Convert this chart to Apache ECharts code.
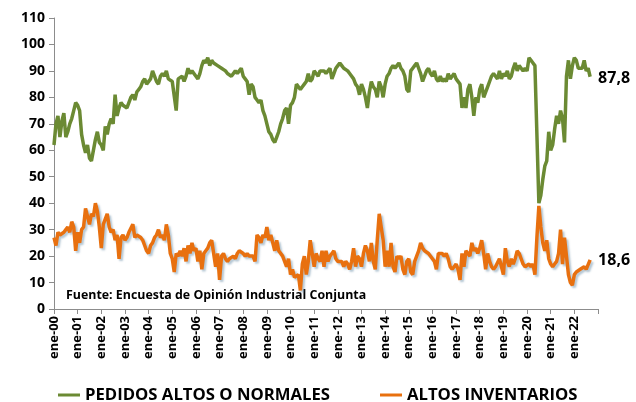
<!DOCTYPE html>
<html><head><meta charset="utf-8">
<script src="https://cdn.jsdelivr.net/npm/echarts@6/dist/echarts.min.js"></script>
<style>html,body{margin:0;padding:0;background:#fff}#c{width:636px;height:402px}</style>
</head><body><div id="c"></div>
<script>
// Categorías mensuales ene-00 ... ene-23
const meses = ['ene','feb','mar','abr','may','jun','jul','ago','sep','oct','nov','dic'];
const anios = ['00','01','02','03','04','05','06','07','08','09','10','11','12','13','14','15','16','17','18','19','20','21','22','23'];
const yTicks = [0,10,20,30,40,50,60,70,80,90,100,110];

// PEDIDOS ALTOS O NORMALES (ene-00 ... sep-22)
const pedidos = [
  62,70,73,65,71,74,65,67,70,72,75,78,
  77,75,66,62,59,62,57,56,56,64,67,63,
  62,60,69,66,70,72,70,81,73,76,78,77,
  77,76,78,80,81,79,82,83,84,86,87,85,
  85,87,90,88,86,85,88,89,88,90,87,87,
  86,86,75,87,87,88,86,88,91,89,90,90,
  88,87,89,92,94,93,95,92,94,93,93,92,
  92,91,91,90,89,89,88,88,90,89,90,91,
  88,87,86,81,85,84,80,79,78,79,75,73,
  70,67,66,64,63,65,67,70,72,75,76,70,
  77,78,80,85,84,83,84,85,86,89,86,87,
  90,89,88,90,90,90,89,89,91,87,89,91,
  92,93,92,91,91,90,89,89,87,85,84,81,
  85,83,80,76,82,86,84,83,80,86,84,80,
  85,88,89,91,92,91,92,93,91,90,88,83,
  82,90,91,92,93,91,89,86,88,90,91,89,
  88,90,87,86,88,86,87,86,89,87,88,89,
  87,87,85,76,80,76,83,85,80,73,80,78,
  83,85,80,82,84,86,88,89,88,87,90,87,
  89,88,90,87,88,91,93,90,92,91,90,91,
  90,95,94,93,92,66,40,43,49,54,56,67,
  60,62,68,73,70,75,72,63,88,94,87,92,
  95,94,91,91,91,94,90,91,87.8
];

// ALTOS INVENTARIOS (ene-00 ... sep-22)
const inventarios = [
  27,24,29,28,28,29,30,31,29,33,31,22,
  29,25,30,31,38,35,32,36,35,40,37,31,
  23,32,34,36,31,29,30,26,28,19,27,28,
  26,27,29,29,32,27,28,28,27,26,24,22,
  21,24,25,27,28,30,27,28,26,32,28,21,
  19,14,21,20,22,20,23,18,24,21,25,22,
  23,18,22,15,21,22,23,25,26,21,16,21,
  11,20,21,19,18,19,19,20,19,21,22,22,
  21,20,21,20,20,20,18,28,27,25,28,27,
  31,26,28,25,22,26,22,22,20,18,16,19,
  13,15,12,12,13,7,17,20,13,18,26,21,
  16,21,19,18,22,16,22,18,20,21,22,19,
  18,18,18,16,18,17,15,18,23,16,20,19,
  16,21,24,22,18,25,18,15,26,36,31,26,
  16,22,16,25,16,14,20,19,20,15,13,18,
  19,14,13,18,20,22,25,23,22,22,21,21,
  19,18,15,21,21,21,20,21,19,16,15,16,
  17,15,11,21,16,22,22,20,25,22,23,21,
  23,26,21,15,21,18,16,15,16,16,19,16,
  13,23,18,16,19,17,19,22,21,19,17,16,
  16,17,16,17,13,27,39,31,25,22,26,19,
  17,16,17,18,21,30,17,27,20,13,10,9,
  13,14,14,15,15,16,15,15,18.6
];

const fuente = 'Fuente: Encuesta de Opinión Industrial Conjunta';
const nombres = ['PEDIDOS ALTOS O NORMALES','ALTOS INVENTARIOS'];

const categorias = [];
for (let a = 0; a < anios.length - 1; a++) {
  for (let m = 0; m < 12; m++) categorias.push(meses[m] + '-' + anios[a]);
}
categorias.push(meses[0] + '-' + anios[anios.length - 1]);
const nCat = categorias.length - 1;

const FONT = 'Open Sans';
const chart = echarts.init(document.getElementById('c'), null, {renderer: 'canvas'});
const fmt = p => String(p.value).replace('.', ',');

chart.setOption({
  animation: false,
  backgroundColor: '#fff',
  grid: {left: 54, right: 38, top: 18, bottom: 93, containLabel: false},
  xAxis: {
    type: 'category', data: categorias, boundaryGap: false,
    axisLine: {show: true, lineStyle: {color: '#8c8c8c', width: 1}},
    axisTick: {show: true, length: 5, interval: (i) => i % 12 === 0, lineStyle: {color: '#8c8c8c'}},
    axisLabel: {
      interval: (i) => i % 12 === 0 && i < nCat,
      rotate: 90, margin: 7, color: '#000', fontSize: 13, fontWeight: 'bold', fontFamily: FONT
    },
    splitLine: {show: false}
  },
  yAxis: {
    type: 'value', min: yTicks[0], max: yTicks[yTicks.length - 1], interval: 10,
    axisLine: {show: true, lineStyle: {color: '#8c8c8c', width: 1}},
    axisTick: {show: true, length: 5, lineStyle: {color: '#8c8c8c'}},
    axisLabel: {margin: 9, color: '#000', fontSize: 14, fontWeight: 'bold', fontFamily: FONT},
    splitLine: {show: false}
  },
  legend: [
    {data: [nombres[0]], left: 58, top: 386, padding: 0, icon: 'rect', itemWidth: 22, itemHeight: 3,
     textStyle: {fontSize: 16.7, fontWeight: 'bold', color: '#000', fontFamily: FONT, lineHeight: 18}},
    {data: [nombres[1]], left: 380, top: 386, padding: 0, icon: 'rect', itemWidth: 22, itemHeight: 3,
     textStyle: {fontSize: 16.7, fontWeight: 'bold', color: '#000', fontFamily: FONT, lineHeight: 18}}
  ],
  graphic: [{
    type: 'text', left: 66, top: 289,
    style: {text: fuente, fill: '#000', font: 'bold 12.4px "Open Sans"'}
  }],
  series: [
    {
      name: nombres[0], type: 'line', data: pedidos, showSymbol: false, symbol: 'none',
      lineStyle: {width: 3.5, color: '#6b8a33'}, itemStyle: {color: '#6b8a33'},
      endLabel: {show: true, formatter: fmt, distance: 8, offset: [0, 2], color: '#000', fontSize: 16, fontWeight: 'bold', fontFamily: FONT}
    },
    {
      name: nombres[1], type: 'line', data: inventarios, showSymbol: false, symbol: 'none',
      lineStyle: {width: 3.5, color: '#e8700f', shadowColor: 'rgba(90,130,160,0.45)', shadowBlur: 2, shadowOffsetX: 2, shadowOffsetY: 2},
      itemStyle: {color: '#e8700f'},
      endLabel: {show: true, formatter: fmt, distance: 8, offset: [0, 1], color: '#000', fontSize: 16, fontWeight: 'bold', fontFamily: FONT}
    }
  ]
});
</script>
</body></html>
